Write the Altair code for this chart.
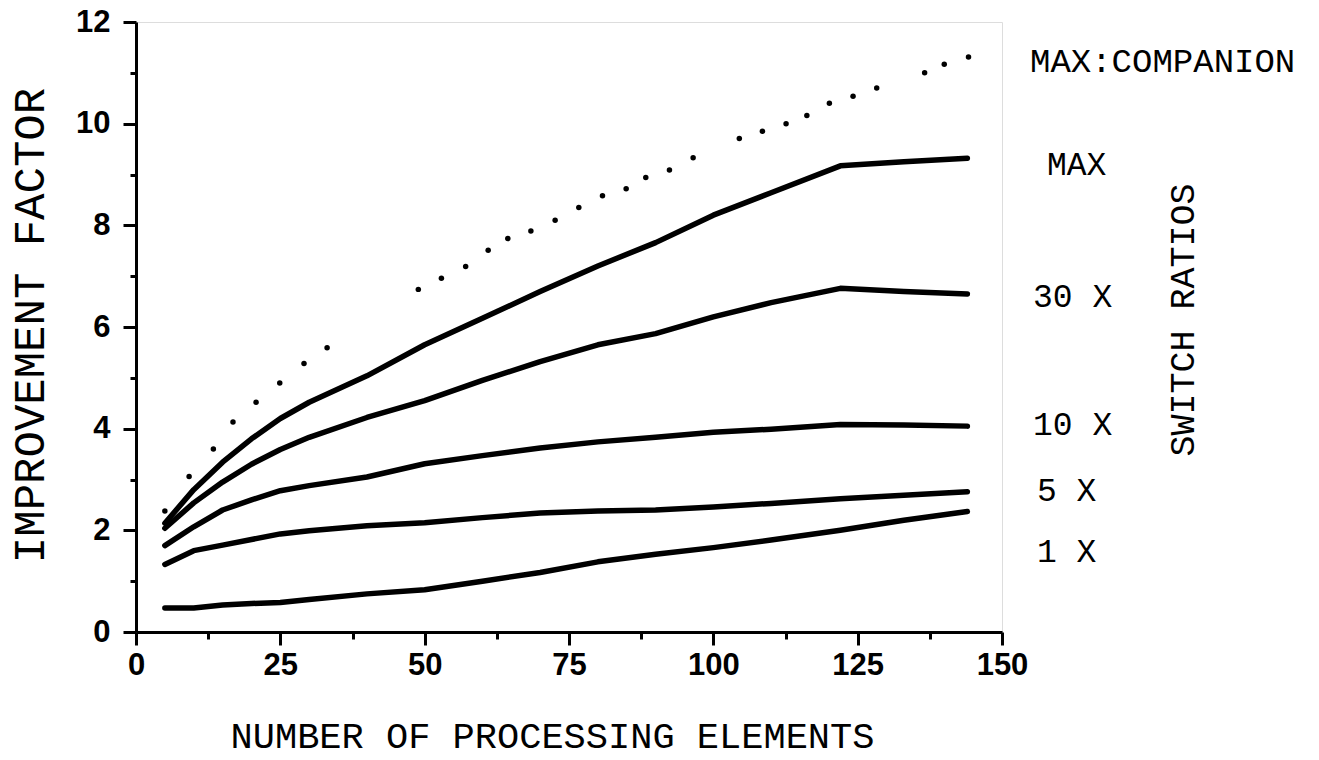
import altair as alt
import pandas as pd

# ---- data ----
pe = [5, 10, 15, 20, 25, 30, 40, 50, 60, 70, 80, 90, 100, 110, 122, 133, 144]
sr_max = [2.14, 2.80, 3.34, 3.80, 4.20, 4.52, 5.04, 5.65, 6.17, 6.70, 7.20, 7.66, 8.20, 8.64, 9.17, 9.25, 9.32]
sr_30 = [2.04, 2.54, 2.95, 3.30, 3.59, 3.83, 4.22, 4.55, 4.95, 5.32, 5.65, 5.87, 6.20, 6.48, 6.76, 6.70, 6.65]
sr_10 = [1.70, 2.07, 2.40, 2.60, 2.78, 2.88, 3.05, 3.31, 3.47, 3.62, 3.74, 3.83, 3.93, 3.99, 4.08, 4.07, 4.05]
sr_5 = [1.33, 1.60, 1.71, 1.82, 1.93, 1.99, 2.09, 2.15, 2.25, 2.34, 2.38, 2.40, 2.46, 2.53, 2.62, 2.69, 2.76]
sr_1 = [0.47, 0.47, 0.53, 0.56, 0.58, 0.64, 0.75, 0.83, 1.00, 1.17, 1.38, 1.53, 1.66, 1.81, 2.00, 2.20, 2.37]

# dotted "MAX:COMPANION" curve (individual dots as printed)
comp_x = [5.0, 9.2, 13.4, 16.8, 20.8, 24.9, 29.1, 33.1, 48.9, 52.9, 57.1, 61.0, 64.4, 68.4,
          72.6, 76.7, 80.8, 84.9, 88.3, 92.4, 96.5, 104.5, 108.5, 112.6, 116.2, 120.1,
          124.2, 128.3, 136.6, 140.0, 144.2]
comp_y = [2.38, 3.06, 3.60, 4.13, 4.52, 4.90, 5.28, 5.59, 6.74, 6.96, 7.19, 7.51, 7.74, 7.89,
          8.10, 8.35, 8.58, 8.72, 8.94, 9.09, 9.33, 9.71, 9.85, 10.00, 10.16, 10.40,
          10.54, 10.70, 11.00, 11.17, 11.31]

series_names = ["MAX", "30 X", "10 X", "5 X", "1 X"]
series_vals = [sr_max, sr_30, sr_10, sr_5, sr_1]

x_ticks = [0, 12.5, 25, 37.5, 50, 62.5, 75, 87.5, 100, 112.5, 125, 137.5, 150]
y_ticks = list(range(0, 13))

label_texts = ["MAX:COMPANION", "MAX", "30 X", "10 X", "5 X", "1 X"]
side_title = "SWITCH RATIOS"

rows = []
for name, vals in zip(series_names, series_vals):
    for xv, yv in zip(pe, vals):
        rows.append({"series": name, "pe": xv, "imp": yv})
df = pd.DataFrame(rows)
dots_df = pd.DataFrame({"pe": comp_x, "imp": comp_y})

MONO = "Liberation Mono"
SANS = "Liberation Sans"

x_axis = alt.Axis(
    values=x_ticks,
    labelExpr="datum.value % 25 === 0 ? datum.label : ''",
    tickSize={"condition": {"test": "datum.value % 25 === 0", "value": 13}, "value": 7},
    tickWidth=3, tickColor="black",
    domainWidth=3, domainColor="black",
    labelFont=SANS, labelFontSize=31, labelFontWeight="bold", labelColor="black", labelPadding=5,
    labelFlush=False, labelOverlap=False, grid=False,
    title="NUMBER OF PROCESSING ELEMENTS",
    titleFont=MONO, titleFontSize=37, titleFontWeight="normal", titleColor="black",
    titleX=416, titleY=104, titleBaseline="middle",
)
y_axis = alt.Axis(
    values=y_ticks,
    labelExpr="datum.value % 2 === 0 ? datum.label : ''",
    tickSize={"condition": {"test": "datum.value % 2 === 0", "value": 13}, "value": 6},
    tickWidth=3, tickColor="black",
    domainWidth=3, domainColor="black",
    labelFont=SANS, labelFontSize=31, labelFontWeight="bold", labelColor="black", labelPadding=13,
    labelOverlap=False, grid=False,
    title="IMPROVEMENT FACTOR",
    titleFont=MONO, titleFontSize=44, titleFontWeight="normal", titleColor="black",
    titleX=-106, titleY=303, titleBaseline="middle", titleAngle=270,
)

xs = alt.Scale(domain=[0, 150], nice=False, zero=False)
ys = alt.Scale(domain=[0, 12], nice=False)

lines = alt.Chart(df).mark_line(
    color="black", strokeWidth=5.5, strokeCap="round", strokeJoin="round"
).encode(
    x=alt.X("pe:Q", scale=xs, axis=x_axis),
    y=alt.Y("imp:Q", scale=ys, axis=y_axis),
    detail="series:N",
)

dots = alt.Chart(dots_df).mark_circle(color="black", opacity=1, size=30).encode(
    x=alt.X("pe:Q", scale=xs),
    y=alt.Y("imp:Q", scale=ys),
)

# label placement (pixels relative to the plot area)
label_pos = [(894, 40), (911, 143), (897, 275), (897, 403), (901, 469), (901, 530)]
label_sizes = [34, 33, 33, 33, 33, 33]
texts = []
for t, (px, py), fs in zip(label_texts, label_pos, label_sizes):
    texts.append(
        alt.Chart(pd.DataFrame({"t": [t]})).mark_text(
            align="left", baseline="middle", font=MONO, fontSize=fs, color="black"
        ).encode(x=alt.value(px), y=alt.value(py), text="t:N")
    )
side = alt.Chart(pd.DataFrame({"t": [side_title]})).mark_text(
    align="center", baseline="middle", font=MONO, fontSize=35, color="black", angle=270
).encode(x=alt.value(1047), y=alt.value(298), text="t:N")

chart = alt.layer(lines, dots, *texts, side).properties(
    width=866,
    height=610,
    padding={"left": 136, "top": 22, "right": 317, "bottom": 128},
    autosize=alt.AutoSizeParams(type="none"),
).configure_view(stroke="black", strokeWidth=3).configure(background="white")

chart.save("out.html", embed_options={"renderer": "svg", "actions": False})
